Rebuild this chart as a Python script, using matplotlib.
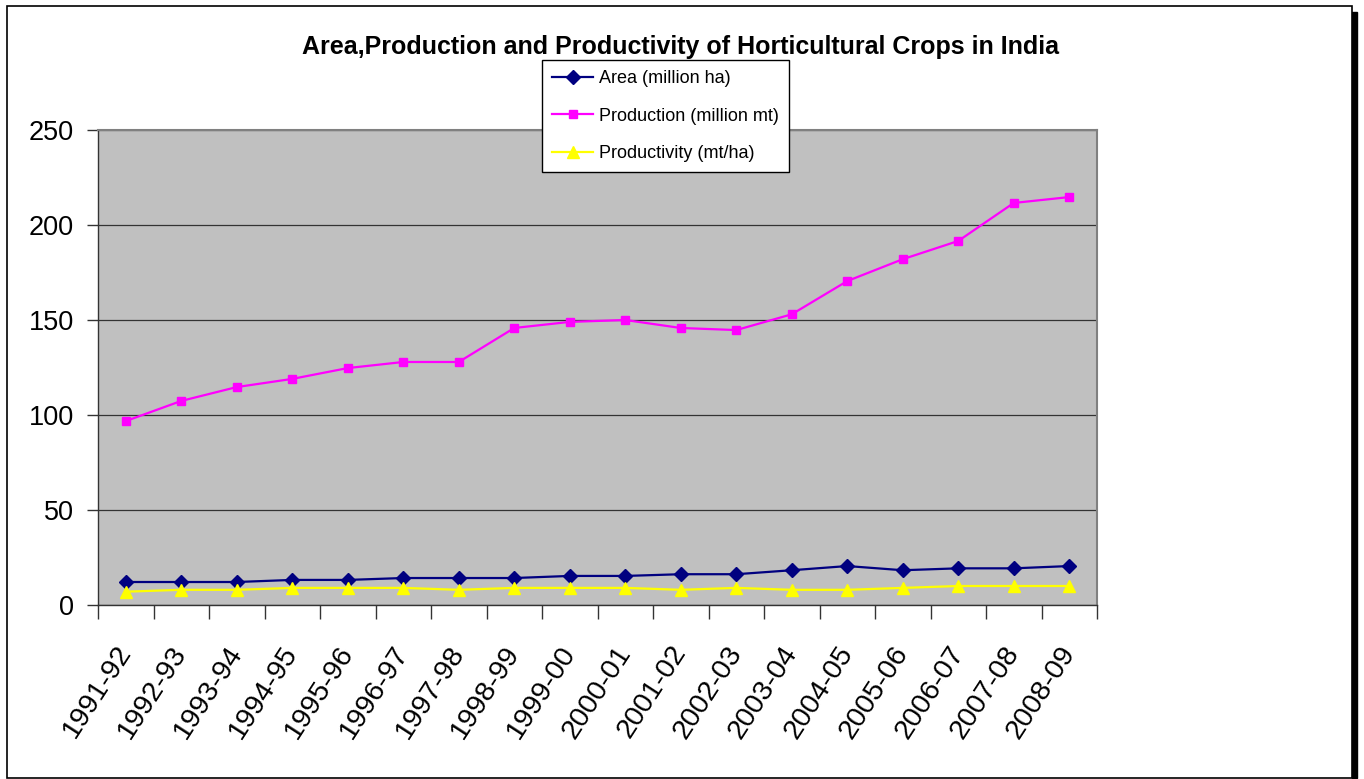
import numpy as np
import matplotlib
matplotlib.use('Agg')
import matplotlib.pyplot as plt
from matplotlib.patches import Rectangle

plt.rcParams['font.family'] = ['Liberation Sans', 'DejaVu Sans']

# data
years = ['1991-92', '1992-93', '1993-94', '1994-95', '1995-96', '1996-97',
         '1997-98', '1998-99', '1999-00', '2000-01', '2001-02', '2002-03',
         '2003-04', '2004-05', '2005-06', '2006-07', '2007-08', '2008-09']
area = [12.1, 12.1, 12.1, 13.2, 13.2, 14.2, 14.2, 14.2, 15.3,
        15.3, 16.2, 16.2, 18.3, 20.5, 18.3, 19.3, 19.3, 20.5]
production = [96.8, 107.4, 114.7, 119.0, 124.7, 127.9, 127.9, 145.8, 149.0,
              150.0, 145.8, 144.7, 153.0, 170.5, 182.0, 191.6, 211.6, 214.7]
productivity = [7, 8, 8, 9, 9, 9, 8, 9, 9, 9, 8, 9, 8, 8, 9, 10, 10, 10]

fig = plt.figure(figsize=(13.64, 7.79), dpi=100)
W, H = 1364, 779

# outer chart frame with shadow
fig.patches.append(Rectangle((1352 / W, 1 - 778 / H), 5 / W, (778 - 12) / H,
                             transform=fig.transFigure, color='black', zorder=-2))
fig.patches.append(Rectangle((7 / W, 1 - 778 / H), (1352 - 7) / W, (778 - 6) / H,
                             transform=fig.transFigure, facecolor='white',
                             edgecolor='black', lw=1.2, zorder=-1))

ax = fig.add_axes([98 / W, 1 - 605 / H, (1097 - 98) / W, (605 - 130) / H])
ax.set_facecolor('#C0C0C0')
x = np.arange(len(years))

ax.plot(x, area, color='#000080', marker='D', markersize=7, lw=1.6,
        label='Area (million ha)', zorder=3)
ax.plot(x, production, color='#FF00FF', marker='s', markersize=6, lw=1.6,
        label='Production (million mt)', zorder=3)
ax.plot(x, productivity, color='#FFFF00', marker='^', markersize=8, lw=1.6,
        label='Productivity (mt/ha)', zorder=3)

ax.set_xlim(-0.5, len(years) - 0.5)
ax.set_ylim(0, 250)
ax.set_yticks([0, 50, 100, 150, 200, 250])
ax.yaxis.grid(True, color='#333333', lw=0.9)
ax.set_axisbelow(True)

ax.set_xticks(np.arange(-0.5, len(years), 1.0))
ax.set_xticklabels([])
ax.set_xticks(x, minor=True)
ax.set_xticklabels(years, minor=True, rotation=57, ha='right', va='center',
                   rotation_mode='anchor', fontsize=20.5)
ax.tick_params(axis='x', which='minor', length=0, pad=31)
ax.tick_params(axis='x', which='major', length=10, width=1, color='#333333', direction='out')
ax.tick_params(axis='y', length=8, width=1, color='#333333', labelsize=19.5, pad=9.5)

for s in ['top', 'right']:
    ax.spines[s].set_color('#808080')
    ax.spines[s].set_linewidth(1.5)
for s in ['left', 'bottom']:
    ax.spines[s].set_color('#333333')
    ax.spines[s].set_linewidth(1.0)

fig.text(680 / W, 1 - 47 / H,
         'Area,Production and Productivity of Horticultural Crops in India',
         ha='center', va='center', fontsize=18, fontweight='bold')

leg = ax.legend(loc='upper left', bbox_to_anchor=(542 / W, 1 - 60 / H),
                bbox_transform=fig.transFigure, fontsize=13, frameon=True,
                fancybox=False, edgecolor='black', framealpha=1,
                handlelength=2.3, borderpad=0.55, labelspacing=1.15,
                handletextpad=0.3, borderaxespad=0)
leg.get_frame().set_linewidth(1.0)

fig.savefig('out.png', dpi=100)
